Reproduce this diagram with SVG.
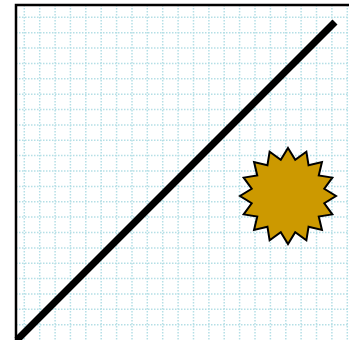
<svg xmlns="http://www.w3.org/2000/svg" width="349" height="340" viewBox="0 0 349 340">
<style>
.grid{fill:none;stroke:#b5dfe6;stroke-width:1.5;stroke-dasharray:1.5 1.5}
.frame{fill:none;stroke:#000;stroke-width:2.5}
.diag{fill:none;stroke:#000;stroke-width:7}
.burst{fill:#cc9900;stroke:#000;stroke-width:2;stroke-linejoin:miter}
</style>
<rect width="349" height="340" fill="#fff"/>
<g id="grid">
<path class="grid" d="M24.3,5V340M39.7,5V340M55.1,5V340M70.4,5V340M85.8,5V340M101.2,5V340M116.6,5V340M132,5V340M147.3,5V340M162.7,5V340M178.1,5V340M193.5,5V340M208.9,5V340M224.2,5V340M239.6,5V340M255,5V340M270.4,5V340M285.8,5V340M301.1,5V340M316.5,5V340M331.9,5V340M347.3,5V340"/>
<path class="grid" d="M16,17.3H349M16,32.7H349M16,48H349M16,63.4H349M16,78.8H349M16,94.2H349M16,109.5H349M16,124.9H349M16,140.3H349M16,155.6H349M16,171H349M16,186.4H349M16,201.7H349M16,217.1H349M16,232.5H349M16,247.9H349M16,263.2H349M16,278.6H349M16,294H349M16,309.3H349M16,324.7H349"/>
</g>
<g id="frame">
<path class="frame" d="M16,340V5H349"/>
</g>
<g id="line">
<path class="diag" d="M17,340L335,22"/>
</g>
<g id="starburst" transform="translate(288,196)">
<polygon class="burst" points="0,-48 7.22,-36.29 18.37,-44.35 20.56,-30.76 33.94,-33.94 30.76,-20.56 44.35,-18.37 36.29,-7.22 48,0 36.29,7.22 44.35,18.37 30.76,20.56 33.94,33.94 20.56,30.76 18.37,44.35 7.22,36.29 0,48 -7.22,36.29 -18.37,44.35 -20.56,30.76 -33.94,33.94 -30.76,20.56 -44.35,18.37 -36.29,7.22 -48,0 -36.29,-7.22 -44.35,-18.37 -30.76,-20.56 -33.94,-33.94 -20.56,-30.76 -18.37,-44.35 -7.22,-36.29"/>
</g>
</svg>
